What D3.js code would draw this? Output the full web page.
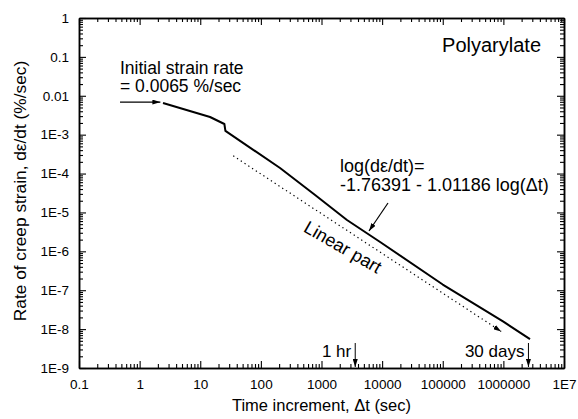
<!DOCTYPE html>
<html>
<head>
<meta charset="utf-8">
<script src="https://cdn.jsdelivr.net/npm/d3@7"></script>
<style>
  html, body { margin: 0; padding: 0; background: #fff; }
  svg { display: block; font-family: "Liberation Sans", Arial, Helvetica, sans-serif; }
  .axis path, .axis line { stroke: #000; }
  .axis text { font-size: 13.5px; fill: #000; }
</style>
</head>
<body>
<svg id="chart" width="578" height="419"></svg>
<script>
// ---- data ----
const xTickValues = [0.1, 1, 10, 100, 1000, 10000, 100000, 1000000, 10000000];
const xTickLabels = ["0.1", "1", "10", "100", "1000", "10000", "100000", "1000000", "1E7"];
const yTickValues = [1e-9, 1e-8, 1e-7, 1e-6, 1e-5, 1e-4, 1e-3, 0.01, 0.1, 1];
const yTickLabels = ["1E-9", "1E-8", "1E-7", "1E-6", "1E-5", "1E-4", "1E-3", "0.01", "0.1", "1"];

// measured creep strain rate curve (time increment in sec, rate in %/sec)
const curveTime = [2.43, 14.5, 25, 26, 207, 784, 2630, 9270, 100000, 1000000, 2750000];
const curveRate = [0.0065, 0.00285, 0.00188, 0.00125, 0.000139, 0.0000282, 0.0000064, 0.00000174, 0.00000014, 0.0000000155, 0.0000000055];

// dotted "linear part" guide line
const guideTime = [35, 920000];
const guideRate = [0.000285, 0.0000000087];

// annotation markers (time in sec)
const oneHour = 3600;
const thirtyDays = 2592000;
const initialRate = 0.0065;

// ---- layout ----
const svg = d3.select("#chart");
const L = 79, R = 564, T = 18, B = 368;

const x = d3.scaleLog().domain([0.1, 1e7]).range([L, R]);
const y = d3.scaleLog().domain([1e-9, 1]).range([B, T]);

// minor tick values for each decade
function minors(lo, hi) {
  const out = [];
  for (let e = Math.round(Math.log10(lo)); e < Math.round(Math.log10(hi)); e++) {
    for (let m = 2; m <= 9; m++) out.push(m * Math.pow(10, e));
  }
  return out;
}
const xMinor = minors(0.1, 1e7);
const yMinor = minors(1e-9, 1);

const defs = svg.append("defs");
function marker(id, w, h) {
  defs.append("marker")
    .attr("id", id)
    .attr("viewBox", `0 0 ${w} ${h}`)
    .attr("refX", w).attr("refY", h / 2)
    .attr("markerWidth", w).attr("markerHeight", h)
    .attr("markerUnits", "userSpaceOnUse")
    .attr("orient", "auto")
    .append("path")
    .attr("d", `M0,0 L${w},${h/2} L0,${h} Z`)
    .attr("fill", "#000");
}
marker("arr", 8, 5);

// ---- axes ----
const fmtX = (d) => xTickLabels[xTickValues.indexOf(d)];
const fmtY = (d) => yTickLabels[yTickValues.indexOf(d)];

function addAxis(gen, transform, values, size, fmt) {
  const g = svg.append("g").attr("class", "axis").attr("transform", transform)
    .call(gen.tickValues(values).tickSize(size).tickSizeOuter(0).tickFormat(fmt || (() => "")));
  g.select(".domain").attr("stroke-width", 1.5);
  g.selectAll(".tick line").attr("stroke-width", 1.1);
  return g;
}

// bottom
const gxb = addAxis(d3.axisBottom(x), `translate(0,${B})`, xTickValues, -7, fmtX);
gxb.selectAll(".tick text").attr("y", 11).attr("dy", "0.71em");
addAxis(d3.axisBottom(x), `translate(0,${B})`, xMinor, -4);
// top
addAxis(d3.axisTop(x), `translate(0,${T})`, xTickValues, -7);
addAxis(d3.axisTop(x), `translate(0,${T})`, xMinor, -4);
// left
const gyl = addAxis(d3.axisLeft(y), `translate(${L},0)`, yTickValues, -7, fmtY);
gyl.selectAll(".tick text").attr("x", -10);
addAxis(d3.axisLeft(y), `translate(${L},0)`, yMinor, -4);
// right
addAxis(d3.axisRight(y), `translate(${R},0)`, yTickValues, -7);
addAxis(d3.axisRight(y), `translate(${R},0)`, yMinor, -4);

// ---- curves ----
const curveData = curveTime.map((t, i) => [t, curveRate[i]]);
const guideData = guideTime.map((t, i) => [t, guideRate[i]]);
const line = d3.line().x(d => x(d[0])).y(d => y(d[1]));

svg.append("path")
  .datum(curveData)
  .attr("d", line)
  .attr("fill", "none")
  .attr("stroke", "#000")
  .attr("stroke-width", 2)
  .attr("stroke-linejoin", "round");

svg.append("path")
  .datum(guideData)
  .attr("d", line)
  .attr("fill", "none")
  .attr("stroke", "#000")
  .attr("stroke-width", 1.2)
  .attr("stroke-dasharray", "1.3,3.2")
  .attr("marker-end", "url(#arr)");

// ---- annotations ----
function txt(xp, yp, s, size, anchor) {
  return svg.append("text").attr("x", xp).attr("y", yp)
    .attr("font-size", size).attr("text-anchor", anchor || "start")
    .attr("fill", "#000").text(s);
}

// initial strain rate arrow
svg.append("line")
  .attr("x1", x(0.475)).attr("x2", x(2.2))
  .attr("y1", y(initialRate) - 1).attr("y2", y(initialRate) - 1)
  .attr("stroke", "#000").attr("stroke-width", 1.3)
  .attr("marker-end", "url(#arr)");
txt(120, 74, "Initial strain rate", 17.5);
txt(120, 92, "= 0.0065 %/sec", 17.5);

txt(541, 52, "Polyarylate", 20, "end");

txt(340, 172, "log(d\u03b5/dt)=", 18);
txt(340, 191, "-1.76391 - 1.01186 log(\u0394t)", 18);
svg.append("line")
  .attr("x1", 388).attr("y1", 203).attr("x2", 369).attr("y2", 231)
  .attr("stroke", "#000").attr("stroke-width", 1.2)
  .attr("marker-end", "url(#arr)");

svg.append("text")
  .attr("transform", "translate(343,247) rotate(30)")
  .attr("text-anchor", "middle").attr("dy", "0.35em")
  .attr("font-size", 18).attr("fill", "#000")
  .text("Linear part");

// 1 hr and 30 days markers
[[oneHour, "1 hr"], [thirtyDays, "30 days"]].forEach(([t, lab]) => {
  svg.append("line")
    .attr("x1", x(t)).attr("x2", x(t)).attr("y1", 343).attr("y2", B - 1)
    .attr("stroke", "#000").attr("stroke-width", 1)
    .attr("marker-end", "url(#arr)");
  txt(x(t) - 4, 357, lab, 17, "end");
});

// axis titles
txt((L + R) / 2, 411, "Time increment, \u0394t (sec)", 16.5, "middle");
svg.append("text")
  .attr("transform", `translate(26,${(T + B) / 2 - 2}) rotate(-90)`)
  .attr("text-anchor", "middle").attr("font-size", 17.3).attr("fill", "#000")
  .text("Rate of creep strain, d\u03b5/dt (%/sec)");
</script>
</body>
</html>
